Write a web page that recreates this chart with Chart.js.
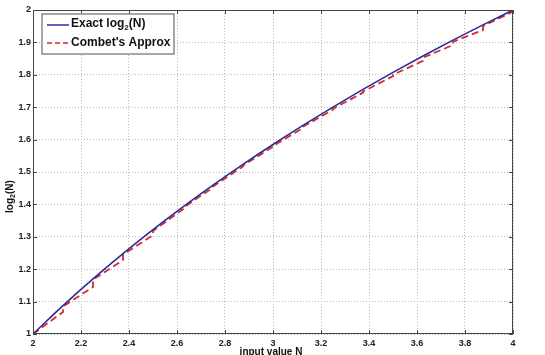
<!DOCTYPE html>
<html>
<head>
<meta charset="utf-8">
<script src="https://cdn.jsdelivr.net/npm/chart.js@4/dist/chart.umd.min.js"></script>
<style>
  html, body { margin: 0; padding: 0; background: #fff; }
  #wrap { width: 545px; height: 355px; position: relative; }
</style>
</head>
<body>
<div id="wrap"><canvas id="log-chart"></canvas></div>
<script>
// input values N and the exact base-2 log at each of them
const nValues = [2, 2.125, 2.25, 2.375, 2.5, 2.625, 2.75, 2.875, 3, 3.125, 3.25, 3.375, 3.5, 3.625, 3.75, 3.875, 4];
const exactLog2 = [1, 1.0875, 1.1699, 1.2479, 1.3219, 1.3923, 1.4594, 1.5236, 1.585, 1.6439, 1.7004, 1.7549, 1.8074, 1.858, 1.9069, 1.9542, 2];

// Combet's approximation: one straight piece per 1/8 step, start/end of each piece
const approxN = [2, 2.125, 2.125, 2.25, 2.25, 2.375, 2.375, 2.5, 2.5, 2.625, 2.625, 2.75, 2.75, 2.875, 2.875, 3,
                 3, 3.125, 3.125, 3.25, 3.25, 3.375, 3.375, 3.5, 3.5, 3.625, 3.625, 3.75, 3.75, 3.875, 3.875, 4];
const approxLog2 = [1, 1.068, 1.085, 1.145, 1.168, 1.228, 1.245, 1.305, 1.318, 1.385, 1.389, 1.452, 1.455, 1.517, 1.520, 1.578,
                    1.580, 1.636, 1.640, 1.692, 1.695, 1.745, 1.748, 1.796, 1.800, 1.843, 1.853, 1.892, 1.902, 1.938, 1.950, 1.995];

const xTicks = [2, 2.2, 2.4, 2.6, 2.8, 3, 3.2, 3.4, 3.6, 3.8, 4];
const yTicks = [1, 1.1, 1.2, 1.3, 1.4, 1.5, 1.6, 1.7, 1.8, 1.9, 2];

const BLUE = '#2b2b9c';
const RED = '#d42a2a';
const FONT = "'Liberation Sans', Arial, sans-serif";

function fmt(v) {
    return String(parseFloat(v.toFixed(2)));
}

// text with a "2" subscript after the given prefix
function drawSub(ctx, x, y, before, sub, after, size) {
    ctx.font = 'bold ' + size + 'px ' + FONT;
    ctx.fillText(before, x, y);
    x += ctx.measureText(before).width;
    ctx.font = 'bold ' + Math.round(size * 0.7) + 'px ' + FONT;
    ctx.fillText(sub, x, y + size * 0.3);
    x += ctx.measureText(sub).width;
    ctx.font = 'bold ' + size + 'px ' + FONT;
    ctx.fillText(after, x, y);
}

const framePlugin = {
    id: 'frame',
    afterDraw(chart) {
        const ctx = chart.ctx;
        const a = chart.chartArea;
        const xs = chart.scales.x, ys = chart.scales.y;
        ctx.save();

        // axes box
        ctx.strokeStyle = '#444';
        ctx.lineWidth = 1;
        ctx.strokeRect(a.left + 0.5, a.top + 0.5, a.right - a.left - 1, a.bottom - a.top - 1);

        // inward tick marks on all four sides
        ctx.beginPath();
        xTicks.forEach(v => {
            const px = Math.round(xs.getPixelForValue(v)) + 0.5;
            ctx.moveTo(px, a.bottom); ctx.lineTo(px, a.bottom - 4);
            ctx.moveTo(px, a.top); ctx.lineTo(px, a.top + 4);
        });
        yTicks.forEach(v => {
            const py = Math.round(ys.getPixelForValue(v)) + 0.5;
            ctx.moveTo(a.left, py); ctx.lineTo(a.left + 4, py);
            ctx.moveTo(a.right, py); ctx.lineTo(a.right - 4, py);
        });
        ctx.stroke();

        // legend box
        const lx = 42, ly = 14, lw = 132, lh = 40;
        ctx.fillStyle = '#fff';
        ctx.fillRect(lx, ly, lw, lh);
        ctx.strokeStyle = '#8a8a8a';
        ctx.lineWidth = 1.5;
        ctx.strokeRect(lx, ly, lw, lh);

        ctx.lineWidth = 1.5;
        ctx.strokeStyle = BLUE;
        ctx.beginPath(); ctx.moveTo(47, 25); ctx.lineTo(69, 25); ctx.stroke();
        ctx.strokeStyle = RED;
        ctx.setLineDash([5, 3]);
        ctx.beginPath(); ctx.moveTo(47, 43); ctx.lineTo(69, 43); ctx.stroke();
        ctx.setLineDash([]);

        ctx.fillStyle = '#111';
        ctx.textBaseline = 'middle';
        ctx.textAlign = 'left';
        drawSub(ctx, 71, 24, 'Exact log', '2', '(N)', 12);
        ctx.font = 'bold 12px ' + FONT;
        ctx.fillText("Combet's Approx", 71, 43);

        // axis titles
        ctx.textAlign = 'center';
        ctx.textBaseline = 'top';
        ctx.font = 'bold 10px ' + FONT;
        ctx.fillText('input value N', 271, 347);

        ctx.translate(10, 196);
        ctx.rotate(-Math.PI / 2);
        ctx.textAlign = 'left';
        ctx.textBaseline = 'middle';
        ctx.font = 'bold 10px ' + FONT;
        const w = ctx.measureText('log(N)').width + 5;
        drawSub(ctx, -w / 2, 0, 'log', '2', '(N)', 10);
        ctx.restore();
    }
};

document.addEventListener('DOMContentLoaded', function() {
    const ctx = document.getElementById('log-chart').getContext('2d');

    const exactPoints = nValues.map((n, i) => ({ x: n, y: exactLog2[i] }));
    const approxPoints = approxN.map((n, i) => ({ x: n, y: approxLog2[i] }));

    new Chart(ctx, {
        type: 'scatter',
        data: {
            datasets: [
                {
                    label: 'Exact log2(N)',
                    data: exactPoints,
                    showLine: true,
                    borderColor: BLUE,
                    borderWidth: 1.6,
                    pointRadius: 0,
                    cubicInterpolationMode: 'monotone'
                },
                {
                    label: "Combet's Approx",
                    data: approxPoints,
                    showLine: true,
                    borderColor: RED,
                    borderWidth: 1.8,
                    borderDash: [7, 4],
                    pointRadius: 0
                }
            ]
        },
        options: {
            animation: false,
            responsive: true,
            maintainAspectRatio: false,
            layout: { padding: { top: 10, right: 32, left: 0, bottom: 0 } },
            plugins: {
                legend: { display: false },
                tooltip: { enabled: false }
            },
            scales: {
                x: {
                    type: 'linear',
                    min: 2,
                    max: 4,
                    afterBuildTicks: s => { s.ticks = xTicks.map(v => ({ value: v })); },
                    afterFit: s => { s.height = 21; },
                    grid: { color: '#b8b8b8', lineWidth: 1, drawTicks: false },
                    border: { display: false, dash: [1, 2] },
                    ticks: {
                        padding: 4,
                        maxRotation: 0,
                        color: '#222',
                        font: { family: FONT, size: 9, weight: 'bold' },
                        callback: v => fmt(v)
                    }
                },
                y: {
                    type: 'linear',
                    min: 1,
                    max: 2,
                    afterBuildTicks: s => { s.ticks = yTicks.map(v => ({ value: v })); },
                    afterFit: s => { s.width = 33; },
                    grid: { color: '#b8b8b8', lineWidth: 1, drawTicks: false },
                    border: { display: false, dash: [1, 2] },
                    ticks: {
                        padding: 2,
                        color: '#222',
                        font: { family: FONT, size: 9, weight: 'bold' },
                        callback: v => fmt(v)
                    }
                }
            }
        },
        plugins: [framePlugin]
    });
});
</script>
</body>
</html>
